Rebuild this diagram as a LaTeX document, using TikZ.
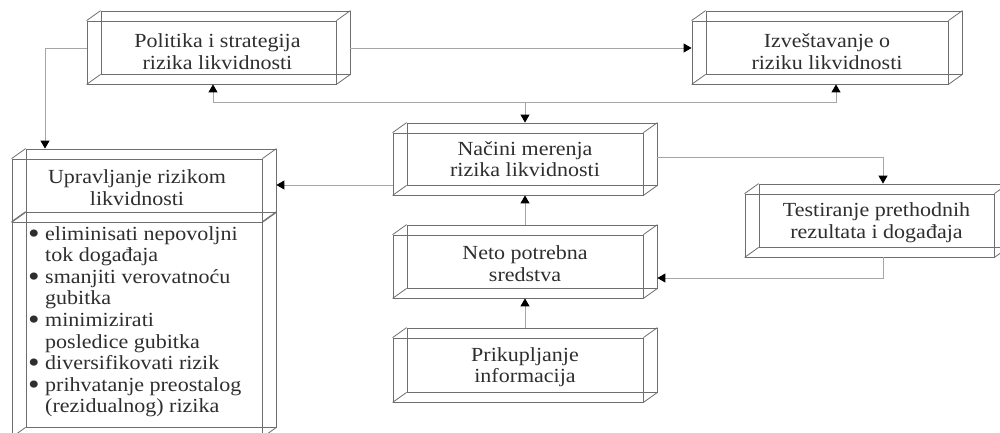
\documentclass[tikz,border=0pt]{standalone}
\usepackage{fontspec}
\setmainfont[FakeStretch=1.1]{Liberation Serif}
\usetikzlibrary{arrows.meta,calc,fit}
\definecolor{boxline}{HTML}{6E6E6E}
\definecolor{connc}{HTML}{A6A6A6}
\definecolor{txt}{HTML}{2E2E2E}
\newcommand\tdbox[5]{%
  \node[face, fit={(#2,#3) (#4,#5)}] (#1) {};
  \node[face, fit={($(#2,#3)+(14,-10)$) ($(#4,#5)+(14,-10)$)}] (#1b) {};
  \foreach \a in {north west,north east,south west,south east}
    \draw[edge] (#1.\a) -- (#1b.\a);
}
\newcommand\bul{\makebox[16pt][l]{\hspace*{-1pt}\raisebox{-3pt}{\scalebox{1.5}{\textbullet}}}}
\begin{document}
\begin{tikzpicture}[x=1pt,y=-1pt,
  face/.style={draw=boxline,line width=0.8pt,inner sep=0pt},
  edge/.style={draw=boxline,line width=0.8pt},
  conn/.style={draw=connc,line width=0.9pt},
  arr/.style={-{Triangle[length=8pt,width=9pt,color=black]}},
  barr/.style={{Triangle[length=8pt,width=9pt,color=black]}-{Triangle[length=8pt,width=9pt,color=black]}},
  lbl/.style={align=center,font=\fontsize{20}{21.5}\selectfont,text=txt,inner sep=0pt}]
\useasboundingbox (0,0) rectangle (1000,433);
\fill[white] (0,0) rectangle (1000,433);

% boxes
\tdbox{pol}{87}{21}{336}{84}
\tdbox{izv}{692}{21}{948}{84}
\tdbox{upr}{12}{159}{262}{222}
\tdbox{lst}{12}{222}{262}{437}
\tdbox{nac}{393}{133}{643}{195}
\tdbox{tst}{745}{194}{994}{257}
\tdbox{net}{393}{235}{643}{298}
\tdbox{pri}{393}{338}{643}{402}

% labels
\node[lbl] (polt) at ($(pol.center)+(6,-1)$) {Politika i strategija\\rizika likvidnosti};
\node[lbl] (izvt) at ($(izv.center)+(7,-1)$) {Izveštavanje o\\riziku likvidnosti};
\node[lbl] (uprt) at ($(upr.center)+(0,-3)$) {Upravljanje rizikom\\likvidnosti};
\node[lbl] (nact) at ($(nac.center)+(7,-5)$) {Načini merenja\\rizika likvidnosti};
\node[lbl] (tstt) at ($(tst.center)+(7,-3)$) {Testiranje prethodnih\\rezultata i događaja};
\node[lbl] (nett) at ($(net.center)+(7,-3)$) {Neto potrebna\\sredstva};
\node[lbl] (prit) at ($(pri.center)+(7,-3)$) {Prikupljanje\\informacija};
\node[anchor=base west,inner sep=0pt,text=txt] (lstt) at (29,240) {%
  \begin{minipage}[t]{240pt}\fontsize{20}{21.6}\selectfont\raggedright
  \bul eliminisati nepovoljni\\
  \hspace*{16pt}tok događaja\\
  \bul smanjiti verovatnoću\\
  \hspace*{16pt}gubitka\\
  \bul minimizirati\\
  \hspace*{16pt}posledice gubitka\\
  \bul diversifikovati rizik\\
  \bul prihvatanje preostalog\\
  \hspace*{16pt}(rezidualnog) rizika
  \end{minipage}};

% junction coordinates
\coordinate (j1) at (45,48);
\coordinate (ja) at (213,102);
\coordinate (j2) at (525,102);
\coordinate (jb) at (836,102);
\coordinate (jd) at (393,185);
\coordinate (je) at (883,157);
\coordinate (jf) at (883,278);

% connectors
\draw[conn,arr] (pol.west |- j1) -| (uprb.north -| j1);
\draw[conn,arr] (polb.east |- j1) -- (izv.west |- j1);
\draw[conn,barr] (pol.south -| ja) -- (ja) -- (jb) -- (izv.south -| jb);
\draw[conn,arr] (j2) -- (nacb.north -| j2);
\draw[conn,arr] (nac.west |- jd) -- (uprb.east |- jd);
\draw[conn,arr] (nacb.east |- je) -| (tstb.north -| je);
\draw[conn,arr] (tst.south -| jf) |- (netb.east |- jf);
\draw[conn,arr] (netb.north -| j2) -- (nac.south -| j2);
\draw[conn,arr] (prib.north -| j2) -- (net.south -| j2);
\end{tikzpicture}
\end{document}
